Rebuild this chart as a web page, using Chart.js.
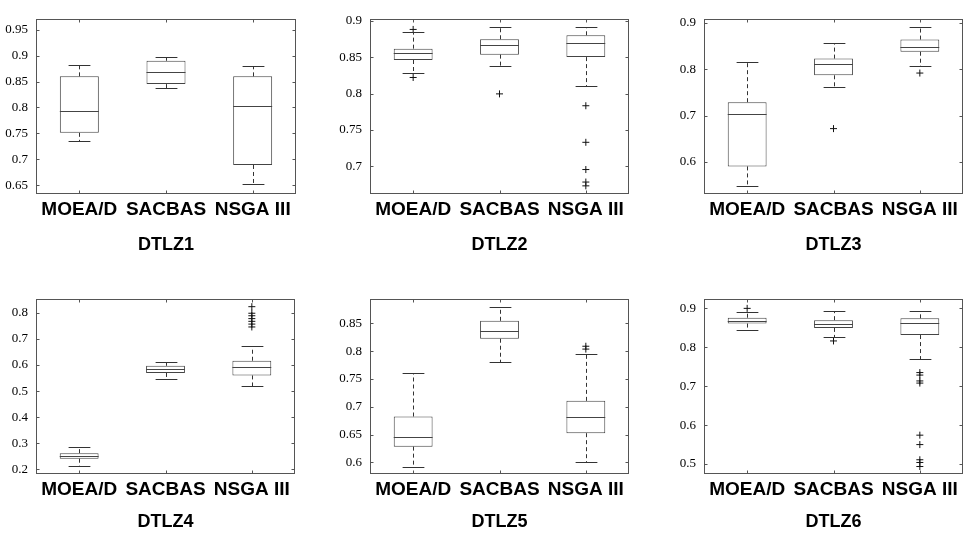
<!DOCTYPE html>
<html>
<head>
<meta charset="utf-8">
<script src="https://cdn.jsdelivr.net/npm/chart.js@4/dist/chart.umd.min.js"></script>
<style>
  html, body { margin: 0; padding: 0; background: #fff; overflow: hidden; width: 968px; height: 533px; }
  canvas { position: absolute; }
</style>
</head>
<body>
<script>
// box plot statistics, one row per problem, one column per method
var methods = ['MOEA/D', 'SACBAS', 'NSGA III'];
var problems = ['DTLZ1', 'DTLZ2', 'DTLZ3', 'DTLZ4', 'DTLZ5', 'DTLZ6'];

var lowWhisker = [
  [0.736, 0.837, 0.6525],
  [0.8276, 0.8383, 0.8107],
  [0.548, 0.762, 0.8067],
  [0.212, 0.548, 0.519],
  [0.592, 0.7806, 0.6005],
  [0.8434, 0.8267, 0.7693]
];
var q1 = [
  [0.751, 0.845, 0.689],
  [0.846, 0.8534, 0.850],
  [0.5905, 0.787, 0.8378],
  [0.2406, 0.5696, 0.560],
  [0.6282, 0.8222, 0.6524],
  [0.861, 0.8498, 0.8314]
];
var median = [
  [0.794, 0.869, 0.802],
  [0.856, 0.8668, 0.870],
  [0.7034, 0.812, 0.8486],
  [0.2528, 0.584, 0.591],
  [0.6452, 0.8358, 0.6807],
  [0.8682, 0.860, 0.8625]
];
var q3 = [
  [0.860, 0.890, 0.860],
  [0.8616, 0.8745, 0.880],
  [0.729, 0.823, 0.864],
  [0.262, 0.597, 0.6164],
  [0.6824, 0.8544, 0.7105],
  [0.876, 0.8697, 0.8745]
];
var highWhisker = [
  [0.882, 0.898, 0.879],
  [0.884, 0.891, 0.8918],
  [0.816, 0.8566, 0.891],
  [0.2874, 0.6114, 0.674],
  [0.7613, 0.8798, 0.7941],
  [0.8904, 0.8936, 0.8936]
];
var outliers = [
  [[], [], []],
  [[0.888, 0.822], [0.7995], [0.7832, 0.733, 0.6956, 0.6784, 0.6732]],
  [[], [0.672], [0.7918]],
  [[], [], [0.8238, 0.7986, 0.789, 0.778, 0.7676, 0.757, 0.746]],
  [[], [], [0.8087, 0.8036]],
  [[0.9], [0.8163], [0.735, 0.7286, 0.7135, 0.708, 0.5742, 0.550, 0.511, 0.504, 0.4936]]
];

// y axis ranges
var yMin = [0.633, 0.662, 0.531, 0.182, 0.579, 0.4744];
var yMax = [0.971, 0.9026, 0.9088, 0.854, 0.894, 0.9246];
var yStep = [0.05, 0.05, 0.1, 0.1, 0.05, 0.1];

// panel placement
var plotLeft = [36, 370, 704, 36, 370, 704];
var plotTop = [7, 7, 7, 287, 287, 287];
var plotW = 260, plotH = 187;
var titlePad = [8, 8, 8, 11, 11, 11];

function seg(ctx, x1, y1, x2, y2) {
  ctx.beginPath();
  ctx.moveTo(x1, y1);
  ctx.lineTo(x2, y2);
  ctx.stroke();
}

var boxExtras = {
  id: 'boxExtras',
  afterDatasetsDraw: function (chart) {
    var k = chart.options.plugins.boxExtras.panel;
    var ctx = chart.ctx, y = chart.scales.y, x = chart.scales.x, a = chart.chartArea;
    var bars = chart.getDatasetMeta(0).data;
    ctx.save();
    ctx.lineWidth = 1;
    bars.forEach(function (bar, i) {
      var cx = Math.round(bar.x) + 0.5, hw = bar.width / 2, cap = bar.width * 0.28;
      var yLo = Math.round(y.getPixelForValue(lowWhisker[k][i])) + 0.5;
      var yHi = Math.round(y.getPixelForValue(highWhisker[k][i])) + 0.5;
      var yQ1 = y.getPixelForValue(q1[k][i]);
      var yQ3 = y.getPixelForValue(q3[k][i]);
      var yMed = Math.round(y.getPixelForValue(median[k][i])) + 0.5;
      ctx.strokeStyle = '#333';
      ctx.setLineDash([4, 3]);
      seg(ctx, cx, yQ3, cx, yHi);
      seg(ctx, cx, yQ1, cx, yLo);
      ctx.setLineDash([]);
      seg(ctx, cx - cap, yHi, cx + cap, yHi);
      seg(ctx, cx - cap, yLo, cx + cap, yLo);
      ctx.strokeStyle = '#444';
      seg(ctx, bar.x - hw, yMed, bar.x + hw, yMed);
    });
    // frame with inward ticks
    var l = Math.round(a.left) + 0.5, r = Math.round(a.right) - 0.5;
    var t = Math.round(a.top) + 0.5, b = Math.round(a.bottom) - 0.5;
    ctx.strokeStyle = '#555';
    ctx.strokeRect(l, t, r - l, b - t);
    y.ticks.forEach(function (tk) {
      var py = Math.round(y.getPixelForValue(tk.value)) + 0.5;
      seg(ctx, l, py, l + 3, py);
      seg(ctx, r, py, r - 3, py);
    });
    methods.forEach(function (m, i) {
      var px = Math.round(x.getPixelForValue(i)) + 0.5;
      seg(ctx, px, b, px, b - 3);
      seg(ctx, px, t, px, t + 3);
    });
    ctx.restore();
  }
};

problems.forEach(function (name, k) {
  var canvas = document.createElement('canvas');
  canvas.width = plotW + 44;
  canvas.height = plotH + 4 + 70;
  canvas.style.left = (plotLeft[k] - 40) + 'px';
  canvas.style.top = (plotTop[k] - 4) + 'px';
  document.body.appendChild(canvas);

  var pts = [];
  methods.forEach(function (m, i) {
    outliers[k][i].forEach(function (v) { pts.push({ x: m, y: v }); });
  });

  new Chart(canvas.getContext('2d'), {
    type: 'bar',
    data: {
      labels: methods,
      datasets: [{
        data: methods.map(function (m, i) { return [q1[k][i], q3[k][i]]; }),
        backgroundColor: '#fff',
        borderColor: '#444',
        borderWidth: 1,
        borderSkipped: false,
        barPercentage: 0.45,
        categoryPercentage: 1
      }, {
        type: 'line',
        data: pts,
        showLine: false,
        pointStyle: 'cross',
        pointRadius: 3.5,
        pointBorderColor: '#111',
        pointBorderWidth: 1
      }]
    },
    options: {
      responsive: false,
      animation: false,
      devicePixelRatio: 1,
      layout: { padding: { top: 4, right: 4, left: 0, bottom: 0 } },
      plugins: {
        legend: { display: false },
        tooltip: { enabled: false },
        boxExtras: { panel: k }
      },
      scales: {
        x: {
          grid: { display: false, drawTicks: false },
          border: { display: false },
          ticks: {
            color: '#000',
            padding: 4,
            maxRotation: 0,
            autoSkip: false,
            font: { family: 'Liberation Sans', size: 19, weight: 'bold' }
          },
          title: {
            display: true,
            text: name,
            color: '#000',
            font: { family: 'Liberation Sans', size: 18, weight: 'bold' },
            padding: { top: 0, bottom: titlePad[k] }
          },
          afterFit: function (s) { s.height = 70; }
        },
        y: {
          min: yMin[k],
          max: yMax[k],
          grid: { display: false, drawTicks: false },
          border: { display: false },
          ticks: {
            stepSize: yStep[k],
            includeBounds: false,
            color: '#000',
            padding: 8,
            font: { family: 'Liberation Serif', size: 13 },
            callback: function (v) { return String(+v.toFixed(3)); }
          },
          afterFit: function (s) { s.width = 40; }
        }
      }
    },
    plugins: [boxExtras]
  });
});
</script>
</body>
</html>
